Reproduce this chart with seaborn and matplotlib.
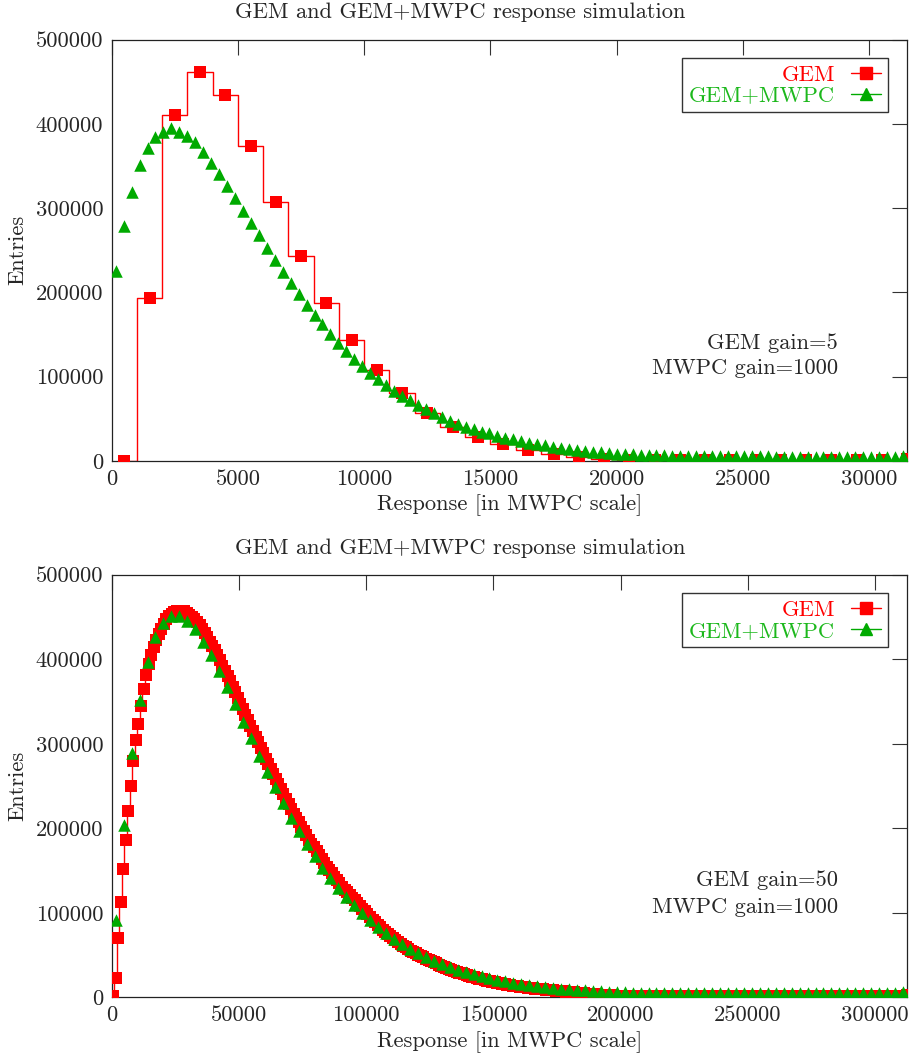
import numpy as np
import pandas as pd
import matplotlib
matplotlib.use("Agg")
import matplotlib.pyplot as plt
from matplotlib.lines import Line2D
import seaborn as sns

# ---------------- data ----------------
title_text = "GEM and GEM+MWPC response simulation"
xlabel_text = "Response [in MWPC scale]"
ylabel_text = "Entries"
legend_labels = ["GEM", "GEM+MWPC"]

# top panel: GEM gain = 5
top_xmax = 31500
top_xticks = [0, 5000, 10000, 15000, 20000, 25000, 30000]
top_yticks = [0, 100000, 200000, 300000, 400000, 500000]
top_gem_binwidth = 1000
top_gem = [500, 193500, 410000, 461000, 434000, 374000, 307000, 243000,
           188000, 143500, 107500, 80300, 57200, 40000, 28800, 19800,
           13000, 8300, 4400, 2000, 1400, 1200, 1100, 1000,
           1000, 900, 900, 900, 800, 800, 800, 2500]
top_mwpc_binwidth = 315
top_mwpc = [225800, 279100, 319500, 350800, 370900, 384700, 390600, 394600, 390600, 385900,
            378000, 366900, 353900, 340400, 326600, 312000, 296900, 281900, 267700, 253000,
            238100, 224600, 211500, 197700, 185100, 173200, 162200, 150300, 140400, 130900,
            121400, 113100, 104800, 97300, 90200, 83400, 77500, 72300, 66400, 61600,
            56500, 52500, 47800, 43800, 40600, 37400, 34700, 32700, 29600, 27600,
            25700, 23700, 21700, 20100, 18600, 17000, 15800, 14600, 13400, 12200,
            11000, 10300, 9500, 8700, 7900, 7900, 7500, 7200, 6900, 6700,
            6500, 6300, 6100, 6000, 5900, 5800, 5700, 5600, 5600, 5500,
            5500, 5400, 5400, 5300, 5300, 5300, 5200, 5200, 5200, 5100,
            5100, 5100, 5000, 5000, 5000, 5000, 5000, 5000, 5000, 6500]
top_gain_text = ["GEM gain=5", "MWPC gain=1000"]

# bottom panel: GEM gain = 50
bot_xmax = 312500
bot_xticks = [0, 50000, 100000, 150000, 200000, 250000, 300000]
bot_yticks = [0, 100000, 200000, 300000, 400000, 500000]
bot_gem_binwidth = 1000
bot_gem = [
    2000, 23000, 70000, 113000, 152000, 186000, 220000, 250000, 280000, 304000,
    323000, 345000, 365000, 381000, 394000, 405000, 414000, 423000, 430000, 436100,
    441700, 447300, 450800, 453400, 455900, 457100, 457300, 457400, 456600, 454700,
    452800, 450500, 447100, 443800, 440300, 435500, 430700, 425900, 420900, 415800,
    410700, 404600, 398500, 392400, 386300, 380300, 374300, 367700, 360900, 354200,
    347500, 340800, 334200, 327600, 321200, 314900, 308400, 301700, 295000, 288500,
    282300, 276200, 270100, 264100, 258100, 252100, 246200, 240300, 234400, 228600,
    222800, 217100, 211800, 206900, 201900, 196900, 191800, 186600, 181800, 177300,
    172800, 168300, 163700, 159100, 154600, 150500, 146500, 142400, 138600, 134700,
    130900, 127400, 124000, 120500, 117400, 114500, 111000, 108000, 104800, 101500,
    98300, 95200, 92000, 88800, 85700, 82600, 80000, 77500, 75000, 72700,
    70300, 68000, 65700, 63000, 61000, 59000, 57000, 55200, 53500, 51800,
    50200, 48700, 47200, 45700, 44200, 42800, 41400, 40000, 38700, 37400,
    36100, 34900, 33700, 32500, 31400, 30300, 29200, 28200, 27200, 26200,
    25300, 24400, 23500, 22700, 21900, 21100, 20300, 19600, 18900, 18200,
    17600, 17000, 16400, 15800, 15300, 14800, 14300, 13800, 13300, 12900,
    12500, 12100, 11700, 11300, 10900, 10600, 10200, 9900, 9600, 9300,
    9000, 8700, 8400, 8100, 7800, 7500, 7200, 6900, 6600, 6300,
    6000, 5700, 5400, 5100, 4800, 4500, 4200, 3900, 3600, 3400,
    3200, 3000, 2800, 2600, 2400, 2200, 2100, 2000, 1900, 1800,
    1700, 1700, 1700, 1700, 1700, 1700, 1700, 1700, 1700, 1700,
    1700, 1700, 1700, 1700, 1700, 1700, 1700, 1700, 1700, 1700,
    1600, 1600, 1600, 1600, 1600, 1600, 1600, 1600, 1600, 1600,
    1600, 1600, 1600, 1600, 1600, 1600, 1600, 1600, 1600, 1600,
    1600, 1600, 1600, 1600, 1600, 1600, 1600, 1600, 1600, 1600,
    1600, 1600, 1600, 1600, 1600, 1600, 1600, 1600, 1600, 1600,
    1500, 1500, 1500, 1500, 1500, 1500, 1500, 1500, 1500, 1500,
    1500, 1500, 1500, 1500, 1500, 1500, 1500, 1500, 1500, 1500,
    1500, 1500, 1500, 1500, 1500, 1500, 1500, 1500, 1500, 1500,
    1500, 1500, 1500, 1500, 1500, 1500, 1500, 1500, 1500, 1500,
    1500, 1500, 1500, 1500, 1500, 1500, 1500, 1500, 1500, 1500,
    1500, 1500, 3000]
bot_mwpc_binwidth = 3125
bot_mwpc = [91500, 203900, 289500, 351800, 397200, 426000, 443300, 451200, 451600, 445700,
            435500, 420800, 405100, 386200, 367600, 346700, 326200, 306500, 285900, 267000,
            248500, 230300, 212500, 197200, 181400, 167600, 153400, 140800, 129000, 118300,
            109200, 100100, 91500, 82800, 75700, 69000, 62700, 57000, 52000, 47500,
            43300, 39500, 36000, 32800, 29900, 27200, 24800, 22600, 20600, 18800,
            17100, 15600, 14300, 13100, 12000, 11000, 10100, 9300, 8600, 8000,
            7400, 6900, 6500, 6100, 5800, 5600, 5400, 5200, 5100, 5000,
            4900, 4900, 4800, 4800, 4800, 4700, 4700, 4700, 4700, 4600,
            4600, 4600, 4600, 4600, 4600, 4500, 4500, 4500, 4500, 4500,
            4500, 4500, 4500, 4500, 4500, 4500, 4500, 4500, 4500, 6500]
bot_gain_text = ["GEM gain=50", "MWPC gain=1000"]

# ---------------- style ----------------
RED = "#ff0000"
GREEN = "#00aa00"
GREEN_TXT = "#1cb81c"
FS = 16.2

sns.set_style("white")
plt.rcParams["font.family"] = ["cmr10", "DejaVu Serif"]
plt.rcParams["mathtext.fontset"] = "cm"
plt.rcParams["axes.formatter.use_mathtext"] = True
plt.rcParams["axes.unicode_minus"] = False

fig = plt.figure(figsize=(9.09, 10.59), dpi=100)
ax_top = fig.add_axes([0.1229, 0.5647, 0.8749, 0.3980])
ax_bot = fig.add_axes([0.1229, 0.0583, 0.8749, 0.3990])


def panel(ax, gem, gem_bw, mwpc, mwpc_bw, xmax, xticks, yticks, gain_text, ty):
    gem = np.asarray(gem, float)
    mwpc = np.asarray(mwpc, float)
    gem_c = (np.arange(len(gem)) + 0.5) * gem_bw
    mwpc_c = (np.arange(len(mwpc)) + 0.5) * mwpc_bw
    dg = pd.DataFrame({"x": gem_c, "y": gem})
    dm = pd.DataFrame({"x": mwpc_c, "y": mwpc})

    sns.lineplot(data=dg, x="x", y="y", estimator=None, drawstyle="steps-mid",
                 color=RED, linewidth=1.0, ax=ax, zorder=2)
    sns.scatterplot(data=dg, x="x", y="y", marker="s", s=8.6 ** 2, color=RED,
                    linewidth=0, ax=ax, zorder=3)
    sns.scatterplot(data=dm, x="x", y="y", marker="^", s=9.0 ** 2, color=GREEN,
                    linewidth=0, ax=ax, zorder=4)

    ax.set_xlim(0, xmax)
    ax.set_ylim(0, 500000)
    ax.set_xticks(xticks)
    ax.set_yticks(yticks)
    ax.set_xticklabels([str(t) for t in xticks])
    ax.set_yticklabels([str(t) for t in yticks])
    ax.tick_params(direction="in", length=10.8, width=0.8, top=True, right=True,
                   labelsize=FS, color="#333333")
    ax.tick_params(axis="y", pad=6)
    ax.tick_params(axis="x", pad=6)
    for sp in ax.spines.values():
        sp.set_color("#222222")
        sp.set_linewidth(0.9)
        sp.set_visible(True)

    ax.set_xlabel(xlabel_text, fontsize=FS)
    ax.set_ylabel(ylabel_text, fontsize=FS)
    ax.xaxis.set_label_coords(0.5, -0.080)
    ax.yaxis.set_label_coords(-0.106, 0.5)

    ax.text(0.9133, ty[0], gain_text[0], transform=ax.transAxes, ha="right",
            va="center", fontsize=FS)
    ax.text(0.9133, ty[1], gain_text[1], transform=ax.transAxes, ha="right",
            va="center", fontsize=FS)

    handles = [Line2D([], [], color=RED, marker="s", markersize=8.2, lw=1.0,
                      label=legend_labels[0]),
               Line2D([], [], color=GREEN, marker="^", markersize=8.2, lw=1.0,
                      label=legend_labels[1])]
    leg = ax.legend(handles=handles, loc="upper right", bbox_to_anchor=(0.9757, 0.956),
                    borderaxespad=0, markerfirst=False, frameon=True, fancybox=False,
                    edgecolor="#333333", framealpha=1, handlelength=1.35,
                    handletextpad=0.7, borderpad=0.3, labelspacing=0.05,
                    fontsize=FS)
    leg.get_frame().set_linewidth(1.0)
    leg.get_texts()[0].set_color(RED)
    leg.get_texts()[1].set_color(GREEN_TXT)


panel(ax_top, top_gem, top_gem_binwidth, top_mwpc, top_mwpc_binwidth, top_xmax,
      top_xticks, top_yticks, top_gain_text, (0.280, 0.221))
panel(ax_bot, bot_gem, bot_gem_binwidth, bot_mwpc, bot_mwpc_binwidth, bot_xmax,
      bot_xticks, bot_yticks, bot_gain_text, (0.2776, 0.2137))

fig.text(460 / 909, 1 - 12 / 1059, title_text, ha="center", va="center", fontsize=FS)
fig.text(460 / 909, 1 - 548 / 1059, title_text, ha="center", va="center", fontsize=FS)

fig.savefig("out.png", dpi=100)
